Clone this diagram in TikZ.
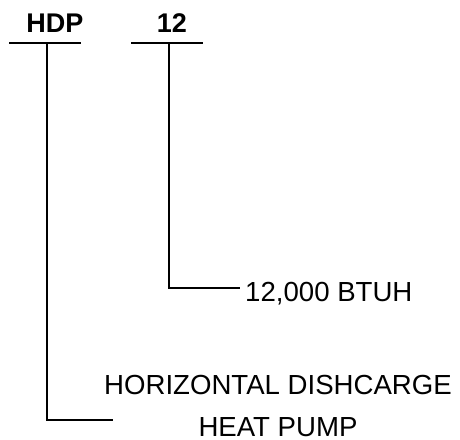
\documentclass[tikz,border=0pt]{standalone}
\usepackage{fontspec}
\setmainfont{Liberation Sans}
\usetikzlibrary{positioning}
\tikzset{
    code-label/.style = {font=\fontsize{27}{27}\selectfont\bfseries, inner sep=0pt, anchor=base},
    code-desc/.style = {font=\fontsize{27.6}{42}\selectfont, inner sep=0pt, align=center},
    leader/.style = {draw=black, line width=2pt},
}
\begin{document}
\begin{tikzpicture}[x=1pt, y=1pt]
\useasboundingbox (0,0) rectangle (460,439);
% model number fields
\node[code-label] (hdp) at (55,406) {HDP};
\node[code-label] (size) at (172,406) {12};
\coordinate (hdp-l) at (9,396);
\coordinate (hdp-r) at (81,396);
\coordinate (size-l) at (131,396);
\coordinate (size-r) at (203,396);
\draw[leader] (hdp-l) -- (hdp-r);
\draw[leader] (size-l) -- (size-r);
% descriptions
\node[code-desc, anchor=base west] (btuh) at (245,137) {12,000 BTUH};
\node[code-desc, anchor=base] (hdp-desc) at (278,3) {HORIZONTAL DISHCARGE\\HEAT PUMP};
% leaders
\coordinate (hdp-top) at (47,396);
\coordinate (hdp-end) at (113,19);
\coordinate (size-top) at (169,396);
\coordinate (size-end) at (240,151);
\draw[leader] (hdp-top) |- (hdp-end);
\draw[leader] (size-top) |- (size-end);
\end{tikzpicture}
\end{document}
